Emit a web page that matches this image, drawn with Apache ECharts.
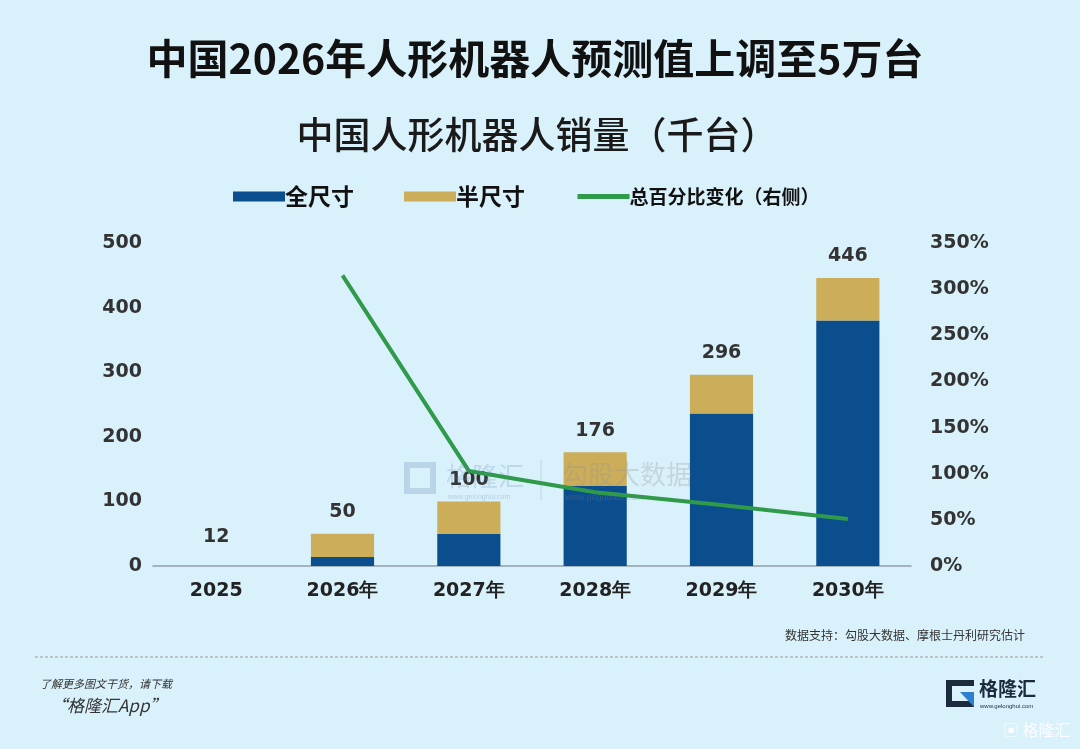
<!DOCTYPE html>
<html>
<head>
<meta charset="utf-8">
<title>中国人形机器人销量</title>
<script src="https://cdn.jsdelivr.net/npm/echarts@6/dist/echarts.min.js"></script>
<style>
  html, body { margin: 0; padding: 0; background: #d9f1fb; }
  #chart { width: 1080px; height: 749px; }
</style>
</head>
<body>
<div id="chart"></div>
<script>
// 数据（千台）
var years = ['2025', '2026年', '2027年', '2028年', '2029年', '2030年']
var fullSize = [null, 14, 50, 124, 236, 380]
var halfSize = [null, 36, 50, 52, 60, 66]
var totals = [12, 50, 100, 176, 296, 446]
var pctChange = [null, 315, 103, 80, 66, 51]
var leftTicks = [0, 100, 200, 300, 400, 500]
var rightTicks = [0, 50, 100, 150, 200, 250, 300, 350]

var BLUE = '#0b4e8d'
var GOLD = '#cbad5a'
var GREEN = '#2f9a4a'
var BG = '#d9f1fb'
var NUM_FONT = '"DejaVu Sans", sans-serif'
var CJK_FONT = '"Noto Sans CJK SC", sans-serif'

var chart = echarts.init(document.getElementById('chart'))

var option = {
  backgroundColor: BG,
  animation: false,
  title: [{
    text: '中国2026年人形机器人预测值上调至5万台',
    left: 530,
    top: 33,
    textAlign: 'center',
    textStyle: { fontFamily: CJK_FONT, fontSize: 41, fontWeight: 'bold', color: '#111' }
  }, {
    text: '中国人形机器人销量（千台）',
    left: 532,
    top: 111,
    textAlign: 'center',
    textStyle: { fontFamily: CJK_FONT, fontSize: 37, fontWeight: 500, color: '#1a1a1a' }
  }],
  legend: {
    left: 228,
    top: 180,
    itemWidth: 52,
    itemHeight: 10,
    itemGap: 50,
    selectedMode: false,
    data: [
      { name: '全尺寸', icon: 'rect', textStyle: { fontSize: 23, fontWeight: 'bold' } },
      { name: '半尺寸', icon: 'rect', textStyle: { fontSize: 23, fontWeight: 'bold' } },
      {
        name: '总百分比变化（右侧）',
        itemStyle: { opacity: 0 },
        lineStyle: { width: 5 },
        textStyle: { fontSize: 19, fontWeight: 'bold' }
      }
    ],
    textStyle: { fontFamily: CJK_FONT, color: '#111', padding: [0, 0, 0, -5] }
  },
  grid: { left: 153, right: 169, top: 243, bottom: 183 },
  xAxis: {
    type: 'category',
    data: years,
    axisTick: { show: false },
    axisLine: { lineStyle: { color: '#8fa0aa', width: 1.5 } },
    axisLabel: {
      margin: 16,
      fontFamily: NUM_FONT,
      fontSize: 19,
      fontWeight: 'bold',
      color: '#222'
    }
  },
  yAxis: [{
    type: 'value',
    min: leftTicks[0],
    max: leftTicks[leftTicks.length - 1],
    interval: 100,
    splitLine: { show: false },
    axisLine: { show: false },
    axisTick: { show: false },
    axisLabel: { margin: 11, fontFamily: NUM_FONT, fontSize: 19, fontWeight: 'bold', color: '#333' }
  }, {
    type: 'value',
    min: rightTicks[0],
    max: rightTicks[rightTicks.length - 1],
    interval: 50,
    splitLine: { show: false },
    axisLine: { show: false },
    axisTick: { show: false },
    axisLabel: { margin: 19, fontFamily: NUM_FONT, fontSize: 19, fontWeight: 'bold', color: '#333', formatter: '{value}%' }
  }],
  series: [{
    name: '全尺寸',
    type: 'bar',
    stack: 'sales',
    barWidth: '50%',
    itemStyle: { color: BLUE },
    data: fullSize,
    z: 3
  }, {
    name: '半尺寸',
    type: 'bar',
    stack: 'sales',
    barWidth: '50%',
    itemStyle: { color: GOLD },
    data: halfSize,
    z: 3
  }, {
    // 合计标签，透明柱
    name: '合计',
    type: 'bar',
    barWidth: '50%',
    barGap: '-100%',
    itemStyle: { color: 'rgba(0,0,0,0)' },
    label: {
      show: true,
      position: 'top',
      distance: 12,
      fontFamily: NUM_FONT,
      fontSize: 19,
      fontWeight: 'bold',
      color: '#333'
    },
    data: totals,
    z: 2
  }, {
    name: '总百分比变化（右侧）',
    type: 'line',
    yAxisIndex: 1,
    symbol: 'none',
    lineStyle: { color: GREEN, width: 4 },
    itemStyle: { color: GREEN },
    data: pctChange,
    z: 5
  }],
  graphic: [
    // 水印
    { type: 'rect', shape: { x: 407, y: 465, width: 26, height: 26 }, style: { fill: 'none', stroke: 'rgba(90,130,170,0.25)', lineWidth: 6 }, z: 10 },
    { type: 'text', x: 446, y: 463, style: { text: '格隆汇', font: '26px ' + CJK_FONT, fill: 'rgba(90,130,170,0.22)' }, z: 10 },
    { type: 'text', x: 448, y: 494, style: { text: 'www.gelonghui.com', font: '7px sans-serif', fill: 'rgba(90,130,170,0.3)' }, z: 10 },
    { type: 'line', shape: { x1: 541, y1: 460, x2: 541, y2: 500 }, style: { stroke: 'rgba(120,140,160,0.25)', lineWidth: 1 }, z: 10 },
    { type: 'text', x: 562, y: 461, style: { text: '勾股大数据', font: '26px ' + CJK_FONT, fill: 'rgba(150,150,150,0.3)' }, z: 10 },
    { type: 'text', x: 565, y: 493, style: { text: 'www.gogudata.com', font: '9px sans-serif', fill: 'rgba(120,120,120,0.35)' }, z: 10 },
    // 数据来源
    { type: 'text', right: 55, top: 629, style: { text: '数据支持：勾股大数据、摩根士丹利研究估计', font: '12px ' + CJK_FONT, fill: '#333' } },
    { type: 'line', shape: { x1: 35, y1: 657, x2: 1045, y2: 657 }, style: { stroke: '#999', lineWidth: 1, lineDash: [3, 2] } },
    // 左下角
    { type: 'text', x: 40, y: 678, style: { text: '了解更多图文干货，请下载', font: 'italic 11px ' + CJK_FONT, fill: '#333' } },
    { type: 'text', x: 50, y: 697, style: { text: '“格隆汇App”', font: 'italic 17px ' + CJK_FONT, fill: '#333' } },
    // 右下角标志
    { type: 'rect', shape: { x: 946, y: 680, width: 28, height: 27 }, style: { fill: '#1b2a3d' } },
    { type: 'rect', shape: { x: 952, y: 686, width: 22, height: 15 }, style: { fill: BG } },
    { type: 'polygon', shape: { points: [[960, 692], [974, 692], [974, 707]] }, style: { fill: '#2f7fd0' } },
    { type: 'text', x: 979, y: 679, style: { text: '格隆汇', font: 'bold 19px ' + CJK_FONT, fill: '#1b2a3d' } },
    { type: 'text', x: 980, y: 703, style: { text: 'www.gelonghui.com', font: '6px sans-serif', fill: '#1b2a3d' } },
    { type: 'text', x: 1003, y: 722, style: { text: '▣ 格隆汇', font: '16px ' + CJK_FONT, fill: 'rgba(255,255,255,0.85)' } }
  ]
}

chart.setOption(option)
</script>
</body>
</html>
